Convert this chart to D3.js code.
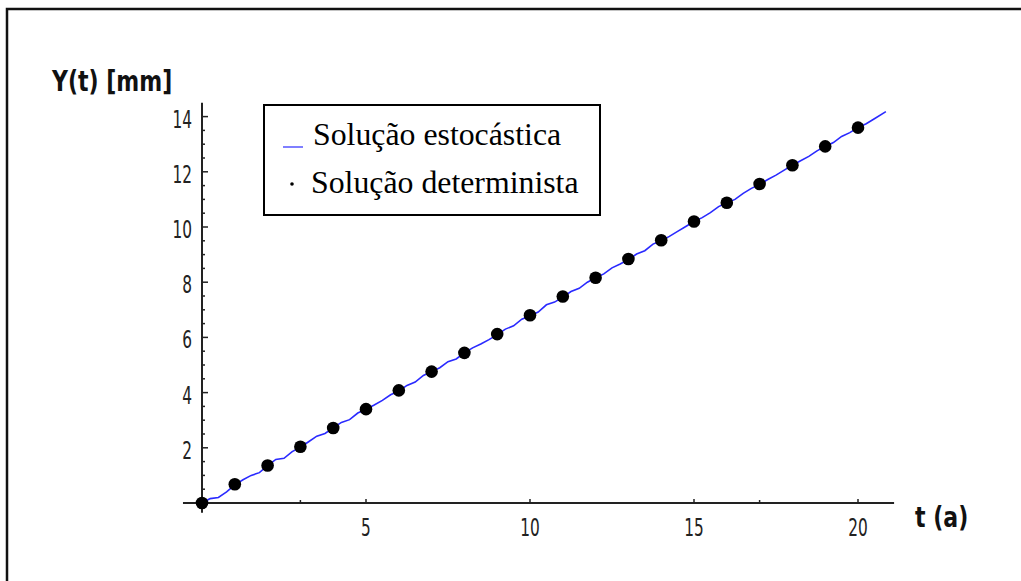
<!DOCTYPE html>
<html>
<head>
<meta charset="utf-8">
<script src="https://cdn.jsdelivr.net/npm/d3@7"></script>
<style>
  html, body { margin: 0; padding: 0; background: #fff; }
  svg { display: block; }
  .tick-label { font-family: "DejaVu Sans", sans-serif; font-size: 24px; fill: #222; }
  .axis-title { font-family: "DejaVu Sans", sans-serif; font-size: 29px; font-weight: bold; fill: #111; }
  .legend-text { font-family: "Liberation Serif", "Times New Roman", serif; font-size: 31.8px; fill: #000; }
</style>
</head>
<body>
<script>
// Deterministic solution, sampled once per year
const detT = [0, 1, 2, 3, 4, 5, 6, 7, 8, 9, 10, 11, 12, 13, 14, 15, 16, 17, 18, 19, 20];
const detY = [0, 0.68, 1.36, 2.04, 2.72, 3.4, 4.08, 4.76, 5.44, 6.12, 6.8, 7.48, 8.16, 8.84, 9.52, 10.2, 10.88, 11.56, 12.24, 12.92, 13.6];

// Stochastic solution path
const stoT = [0, 0.25, 0.5, 0.75, 1, 1.25, 1.5, 1.75, 2, 2.25, 2.5, 2.75, 3, 3.25, 3.5, 3.75,
  4, 4.25, 4.5, 4.75, 5, 5.25, 5.5, 5.75, 6, 6.25, 6.5, 6.75, 7, 7.25, 7.5, 7.75,
  8, 8.25, 8.5, 8.75, 9, 9.25, 9.5, 9.75, 10, 10.25, 10.5, 10.75, 11, 11.25, 11.5, 11.75,
  12, 12.25, 12.5, 12.75, 13, 13.25, 13.5, 13.75, 14, 14.25, 14.5, 14.75, 15, 15.25, 15.5, 15.75,
  16, 16.25, 16.5, 16.75, 17, 17.25, 17.5, 17.75, 18, 18.25, 18.5, 18.75, 19, 19.25, 19.5, 19.75,
  20, 20.25, 20.5, 20.85];
const stoY = [0, 0.16, 0.2, 0.4, 0.66, 0.84, 1.0, 1.1, 1.35, 1.58, 1.62, 1.86, 2.02, 2.22, 2.42, 2.52,
  2.72, 2.92, 3.02, 3.26, 3.4, 3.55, 3.72, 3.92, 4.06, 4.26, 4.38, 4.62, 4.76, 4.9, 5.12, 5.22,
  5.44, 5.62, 5.76, 5.92, 6.1, 6.3, 6.42, 6.66, 6.78, 6.92, 7.18, 7.28, 7.46, 7.66, 7.78, 8.0,
  8.16, 8.3, 8.52, 8.66, 8.82, 9.02, 9.14, 9.38, 9.5, 9.66, 9.84, 10.02, 10.2, 10.34, 10.52, 10.74,
  10.88, 11.0, 11.22, 11.4, 11.54, 11.72, 11.88, 12.06, 12.24, 12.4, 12.56, 12.76, 12.92, 13.06, 13.28, 13.42,
  13.6, 13.74, 13.92, 14.18];

const xTicks = [5, 10, 15, 20];
const xMinorTicks = [3, 17];
const yTicks = [2, 4, 6, 8, 10, 12, 14];
const yMinorTicks = [0.5, 1, 1.5, 2.5, 3, 3.5, 4.5, 5, 5.5, 6.5, 7, 7.5, 8.5, 9, 9.5, 10.5, 11, 11.5, 12.5, 13, 13.5];

const legendItems = ["Solução estocástica", "Solução determinista"];

const W = 1021, H = 581;
const svg = d3.select("body").append("svg").attr("width", W).attr("height", H);

// Outer frame (top and left edges)
svg.append("path")
  .attr("d", `M7,${H} L7,9 L${W},9`)
  .attr("fill", "none").attr("stroke", "#111").attr("stroke-width", 2.5);

const x = d3.scaleLinear().domain([0, 20]).range([202, 858]);
const y = d3.scaleLinear().domain([0, 14]).range([503, 116.6]);

const axisColor = "#222";
const narrow = 0.64;   // horizontal squeeze for the condensed axis lettering

// Axis lines
svg.append("line")
  .attr("x1", x(-0.58)).attr("x2", x(21.1))
  .attr("y1", y(0)).attr("y2", y(0))
  .attr("stroke", axisColor).attr("stroke-width", 2);
svg.append("line")
  .attr("x1", x(0)).attr("x2", x(0))
  .attr("y1", y(-0.35)).attr("y2", y(14.5))
  .attr("stroke", axisColor).attr("stroke-width", 2);

// X ticks (pointing up) and labels
svg.selectAll(".xmaj").data(xTicks).join("line")
  .attr("x1", d => x(d)).attr("x2", d => x(d))
  .attr("y1", y(0)).attr("y2", y(0) - 4)
  .attr("stroke", axisColor).attr("stroke-width", 1.5);
svg.selectAll(".xmin").data(xMinorTicks).join("line")
  .attr("x1", d => x(d)).attr("x2", d => x(d))
  .attr("y1", y(0)).attr("y2", y(0) - 3)
  .attr("stroke", axisColor).attr("stroke-width", 1.5);
svg.selectAll(".xlab").data(xTicks).join("text")
  .attr("class", "tick-label")
  .attr("transform", d => `translate(${x(d)},536) scale(${narrow},1)`)
  .attr("text-anchor", "middle")
  .text(d => d);

// Y ticks (pointing right) and labels
svg.selectAll(".ymaj").data(yTicks).join("line")
  .attr("x1", x(0)).attr("x2", x(0) + 6)
  .attr("y1", d => y(d)).attr("y2", d => y(d))
  .attr("stroke", axisColor).attr("stroke-width", 1.5);
svg.selectAll(".ymin").data(yMinorTicks).join("line")
  .attr("x1", x(0)).attr("x2", x(0) + 3)
  .attr("y1", d => y(d)).attr("y2", d => y(d))
  .attr("stroke", axisColor).attr("stroke-width", 1.5);
svg.selectAll(".ylab").data(yTicks).join("text")
  .attr("class", "tick-label")
  .attr("transform", d => `translate(192,${y(d) + 11}) scale(${narrow},1)`)
  .attr("text-anchor", "end")
  .text(d => d);

// Axis titles
svg.append("text").attr("class", "axis-title")
  .attr("transform", `translate(52,91) scale(0.76,1)`).text("Y(t) [mm]");
svg.append("text").attr("class", "axis-title")
  .attr("transform", `translate(915,527) scale(0.76,1)`).text("t (a)");

// Stochastic path
const stoData = stoT.map((t, i) => [t, stoY[i]]);
svg.append("path")
  .datum(stoData)
  .attr("d", d3.line().x(d => x(d[0])).y(d => y(d[1])))
  .attr("fill", "none").attr("stroke", "#2a2aff").attr("stroke-width", 1.6);

// Deterministic points
svg.selectAll(".det").data(detT).join("circle")
  .attr("cx", d => x(d)).attr("cy", (d, i) => y(detY[i]))
  .attr("r", 6.3).attr("fill", "#000");

// Legend
const lg = svg.append("g");
lg.append("rect")
  .attr("x", 264).attr("y", 105).attr("width", 336).attr("height", 110)
  .attr("fill", "#fff").attr("stroke", "#000").attr("stroke-width", 2);
lg.append("line")
  .attr("x1", 283).attr("x2", 303).attr("y1", 147).attr("y2", 147)
  .attr("stroke", "#2a2aff").attr("stroke-width", 1.2);
lg.append("circle").attr("cx", 292).attr("cy", 184).attr("r", 1.8).attr("fill", "#000");
lg.selectAll(".lt").data(legendItems).join("text")
  .attr("class", "legend-text")
  .attr("x", (d, i) => i === 0 ? 313 : 311)
  .attr("y", (d, i) => 145 + i * 48)
  .text(d => d);
</script>
</body>
</html>
